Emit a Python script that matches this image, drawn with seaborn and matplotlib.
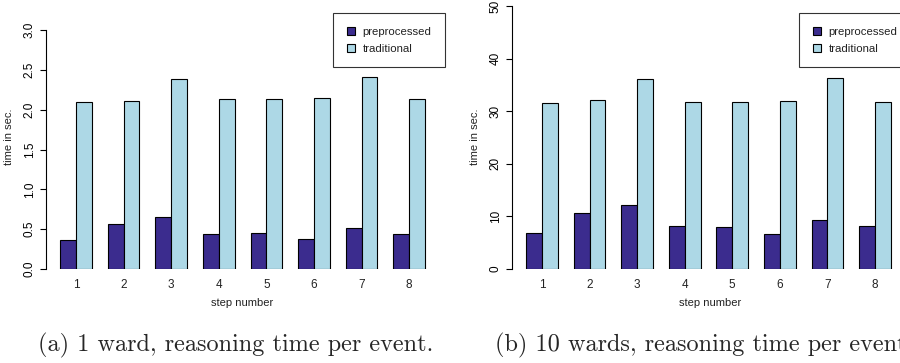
import pandas as pd
import seaborn as sns
import matplotlib.pyplot as plt

# data
steps = ["1", "2", "3", "4", "5", "6", "7", "8"]
methods = ["preprocessed", "traditional"]

pre_1ward = [0.36, 0.57, 0.65, 0.435, 0.45, 0.375, 0.51, 0.435]
trad_1ward = [2.09, 2.11, 2.39, 2.14, 2.14, 2.15, 2.41, 2.14]

pre_10ward = [6.8, 10.7, 12.2, 8.1, 8.0, 6.65, 9.3, 8.1]
trad_10ward = [31.6, 32.1, 36.1, 31.8, 31.8, 32.0, 36.3, 31.75]

y_ticks_1 = [0.0, 0.5, 1.0, 1.5, 2.0, 2.5, 3.0]
y_tick_labels_1 = ["0.0", "0.5", "1.0", "1.5", "2.0", "2.5", "3.0"]
y_ticks_10 = [0, 10, 20, 30, 40, 50]

captions = ["(a) 1 ward, reasoning time per event.",
            "(b) 10 wards, reasoning time per event."]

colors = ["#3b2c8e", "#add8e6"]

sns.set_style("white")
plt.rcParams['font.family'] = ['Liberation Sans', 'DejaVu Sans']


def make_df(pre, trad):
    return pd.DataFrame({
        "step": steps * 2,
        "method": [methods[0]] * 8 + [methods[1]] * 8,
        "time": pre + trad,
    })


W, H = 900, 363
fig = plt.figure(figsize=(9, 3.63), dpi=100)


def px_axes(left, right, bottom, top):
    return fig.add_axes([left / W, (H - bottom) / H, (right - left) / W, (bottom - top) / H])


def draw_panel(ax, df, ymax, yticks, yticklabels, leg_x):
    sns.barplot(data=df, x="step", y="time", hue="method", hue_order=methods,
                palette=colors, saturation=1, width=2 / 3, gap=0, errorbar=None,
                edgecolor="black", linewidth=0.8, ax=ax)
    ax.set_xlim(-0.64, 7.64)
    ax.set_ylim(0, ymax)
    for s in ["top", "right", "bottom"]:
        ax.spines[s].set_visible(False)
    ax.spines["left"].set_color("black")
    ax.spines["left"].set_linewidth(0.8)
    ax.set_yticks(yticks)
    ax.set_yticklabels(yticklabels, rotation=90, va="center")
    ax.tick_params(axis="y", direction="out", length=4, width=0.8, pad=3,
                   labelsize=8.5, colors="black", left=True)
    ax.tick_params(axis="x", length=0, pad=7, labelsize=8.5, labelcolor="#222222")
    ax.set_xlabel("")
    ax.set_ylabel("")
    leg = ax.legend(loc="upper left", bbox_to_anchor=(leg_x / W, 1 - 13 / H),
                    bbox_transform=fig.transFigure, frameon=True, fancybox=False,
                    fontsize=8.2, handlelength=0.7, handleheight=0.7,
                    handletextpad=0.7, borderpad=1.2, labelspacing=0.6,
                    borderaxespad=0)
    leg.get_frame().set_edgecolor("black")
    leg.get_frame().set_linewidth(0.8)
    for t in leg.get_texts():
        t.set_color("#222222")


ax1 = px_axes(45.5, 439.7, 269, 30)
draw_panel(ax1, make_df(pre_1ward, trad_1ward), 3.0, y_ticks_1, y_tick_labels_1, 333)

ax2 = px_axes(511.5, 905.5, 269, 6)
draw_panel(ax2, make_df(pre_10ward, trad_10ward), 50, y_ticks_10,
           [str(v) for v in y_ticks_10], 799)

# axis titles
fig.text(9 / W, 1 - 137 / H, "time in sec.", rotation=90, ha="center", va="center",
         fontsize=8, color="#222222")
fig.text(475 / W, 1 - 137 / H, "time in sec.", rotation=90, ha="center", va="center",
         fontsize=8, color="#222222")
fig.text(242 / W, 1 - 303 / H, "step number", ha="center", va="center",
         fontsize=8, color="#222222")
fig.text(710 / W, 1 - 303 / H, "step number", ha="center", va="center",
         fontsize=8, color="#222222")

# sub-figure captions
fig.text(38 / W, 1 - 345 / H, captions[0], ha="left", va="center",
         fontsize=17.5, family="cmr10")
fig.text(495 / W, 1 - 345 / H, captions[1], ha="left", va="center",
         fontsize=17.5, family="cmr10")

fig.savefig("out.png", dpi=100)
